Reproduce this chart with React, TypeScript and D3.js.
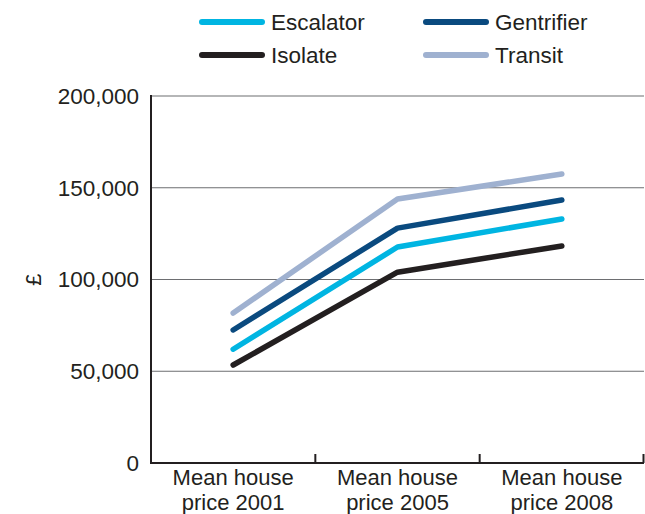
import React, { useRef, useEffect } from 'react'
import * as d3 from "d3";

const categories = ["Mean house price 2001", "Mean house price 2005", "Mean house price 2008"];
const seriesNames = ["Escalator", "Gentrifier", "Isolate", "Transit"];
const escalator = [62000, 117700, 133000];
const gentrifier = [72500, 128000, 143300];
const isolate = [53400, 104000, 118300];
const transit = [81700, 143900, 157500];
const yTicks = [0, 50000, 100000, 150000, 200000];
const colors = ["#00b5e2", "#0a4a7f", "#231f20", "#9fb1d0"];

function App() {
    const ref = useRef<SVGSVGElement>(null);

    useEffect(() => {
        if (!ref.current) return;
        const width = 645, height = 514;
        const margin = { top: 96, right: 1, bottom: 51, left: 151 };
        const font = "'Liberation Sans', Arial, sans-serif";

        const svg = d3.select(ref.current);
        svg.selectAll("*").remove();
        svg.attr("width", width).attr("height", height);

        const x = d3.scaleBand()
            .domain(categories)
            .range([margin.left, width - margin.right]);

        const y = d3.scaleLinear()
            .domain([0, 200000])
            .range([height - margin.bottom, margin.top]);

        // gridlines
        svg.append("g")
            .selectAll("line")
            .data(yTicks.filter(d => d > 0))
            .enter()
            .append("line")
            .attr("x1", margin.left)
            .attr("x2", width - margin.right)
            .attr("y1", d => y(d))
            .attr("y2", d => y(d))
            .attr("stroke", "#6d6e71")
            .attr("stroke-width", 1.2);

        // y tick labels
        svg.append("g")
            .selectAll("text")
            .data(yTicks)
            .enter()
            .append("text")
            .attr("x", margin.left - 12)
            .attr("y", d => y(d))
            .attr("dy", "0.35em")
            .attr("text-anchor", "end")
            .style("font-family", font)
            .style("font-size", "22.5px")
            .attr("fill", "#231f20")
            .text(d => d3.format(",")(d));

        // £ label
        svg.append("text")
            .attr("transform", `translate(33, ${y(100000)}) rotate(-90)`)
            .attr("text-anchor", "middle")
            .attr("dy", "0.35em")
            .style("font-family", font)
            .style("font-size", "22px")
            .attr("fill", "#231f20")
            .text("£");

        // lines
        const data = [escalator, gentrifier, isolate, transit];
        const line = d3.line<number>()
            .x((d, i) => x(categories[i])! + x.bandwidth() / 2)
            .y(d => y(d));

        const order = [3, 1, 0, 2];
        order.forEach(i => {
            svg.append("path")
                .attr("d", line(data[i]))
                .attr("fill", "none")
                .attr("stroke", colors[i])
                .attr("stroke-width", 5.5)
                .attr("stroke-linecap", "round")
                .attr("stroke-linejoin", "round");
        });

        // axes
        const axisColor = "#231f20";
        svg.append("line")
            .attr("x1", margin.left).attr("x2", margin.left)
            .attr("y1", margin.top - 1).attr("y2", y(0) + 1)
            .attr("stroke", axisColor).attr("stroke-width", 2);
        svg.append("line")
            .attr("x1", margin.left - 1).attr("x2", width - margin.right)
            .attr("y1", y(0)).attr("y2", y(0))
            .attr("stroke", axisColor).attr("stroke-width", 2);

        // x ticks at band boundaries
        const bounds = categories.map(c => x(c)!).concat([x(categories[categories.length - 1])! + x.bandwidth()]).slice(1);
        svg.append("g")
            .selectAll("line")
            .data(bounds)
            .enter()
            .append("line")
            .attr("x1", d => Math.min(d, width - 1.5))
            .attr("x2", d => Math.min(d, width - 1.5))
            .attr("y1", y(0) - 9)
            .attr("y2", y(0))
            .attr("stroke", axisColor)
            .attr("stroke-width", 2);

        // x labels, two lines each
        const xLabel = (part: number, yPos: number) => svg.append("g")
            .selectAll("text")
            .data(categories)
            .enter()
            .append("text")
            .attr("text-anchor", "middle")
            .attr("x", d => x(d)! + x.bandwidth() / 2)
            .attr("y", yPos)
            .style("font-family", font)
            .style("font-size", "22px")
            .attr("fill", "#231f20")
            .text(d => part === 0 ? d.split(" ").slice(0, 2).join(" ") : d.split(" ").slice(2).join(" "));
        xLabel(0, 485);
        xLabel(1, 510);

        // legend
        const legend = svg.append("g")
            .selectAll("g")
            .data(seriesNames)
            .enter()
            .append("g")
            .attr("transform", (d, i) => `translate(${i % 2 === 0 ? 202 : 426}, ${i < 2 ? 22 : 55})`);
        legend.append("line")
            .attr("x1", 0).attr("x2", 60)
            .attr("y1", 0).attr("y2", 0)
            .attr("stroke", (d, i) => colors[i])
            .attr("stroke-width", 6)
            .attr("stroke-linecap", "round");
        legend.append("text")
            .attr("x", 69)
            .attr("dy", "0.35em")
            .style("font-family", font)
            .style("font-size", "22.5px")
            .attr("fill", "#231f20")
            .text(d => d);
    }, []);

    return (
        <div style={{ position: "absolute", left: 0, top: 0 }}>
            <svg ref={ref} style={{ display: "block" }}></svg>
        </div>
    )
}

export default App
